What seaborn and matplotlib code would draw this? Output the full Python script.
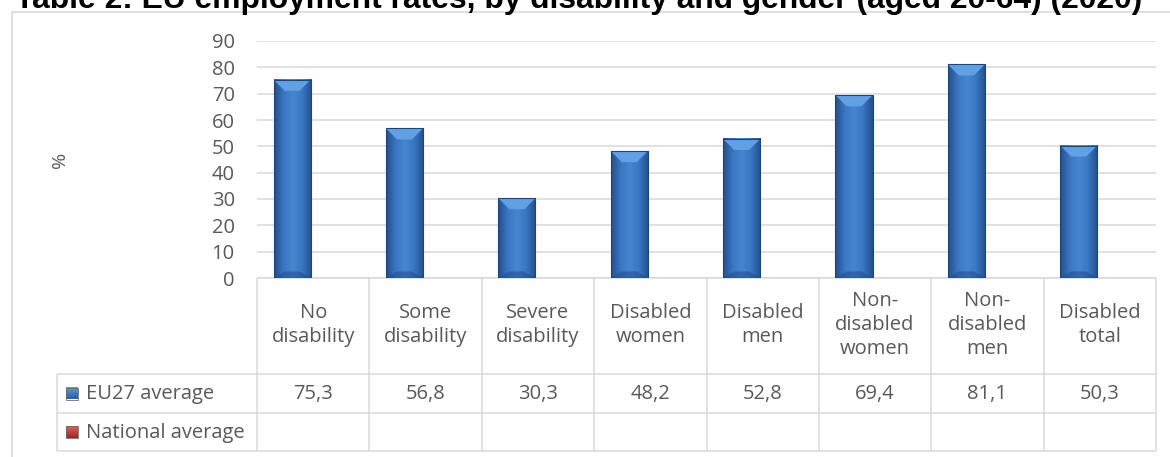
import numpy as np
import pandas as pd
import matplotlib
matplotlib.use("Agg")
import matplotlib.pyplot as plt
import seaborn as sns
from matplotlib.patches import Polygon, Rectangle
from matplotlib.colors import LinearSegmentedColormap

# data
categories = ["No\ndisability", "Some\ndisability", "Severe\ndisability", "Disabled\nwomen",
              "Disabled\nmen", "Non-\ndisabled\nwomen", "Non-\ndisabled\nmen", "Disabled\ntotal"]
eu27 = [75.3, 56.8, 30.3, 48.2, 52.8, 69.4, 81.1, 50.3]
national = [np.nan] * 8
series = ["EU27 average", "National average"]
yticks = list(range(0, 91, 10))
title = "Table 2: EU employment rates, by disability and gender (aged 20-64) (2020)"

df = pd.DataFrame({
    "group": categories * 2,
    "series": [series[0]] * len(categories) + [series[1]] * len(categories),
    "value": eu27 + national,
})

sns.set_theme(style="white")
plt.rcParams['font.family'] = ['Open Sans', 'DejaVu Sans']

grey_txt = "#595959"
line_col = "#d9d9d9"
blue = "#3a75c0"
red = "#c0392f"

W, H = 1170, 457
fig = plt.figure(figsize=(W / 100, H / 100), dpi=100)

# table / frame overlay in pixel coords
tab = fig.add_axes([0, 0, 1, 1], zorder=0)
tab.set_xlim(0, W)
tab.set_ylim(H, 0)
tab.axis('off')

ax = fig.add_axes([257 / W, (H - 278) / H, (1156 - 257) / W, (278 - 41) / H], zorder=1)
ax.patch.set_alpha(0)
sns.barplot(data=df, x="group", y="value", hue="series", hue_order=series, order=categories,
            palette=[blue, red], width=0.75, gap=0.12, saturation=1, legend=False,
            ax=ax, zorder=3)

ax.set_xlim(-0.5, len(categories) - 0.5)
ax.set_ylim(0, 90)
ax.set_yticks(yticks)
ax.set_xticks([])
ax.set_xlabel("")
ax.set_ylabel("")
ax.yaxis.grid(True, color=line_col, lw=1.1)
ax.set_axisbelow(True)
for s in ax.spines.values():
    s.set_visible(False)
ax.tick_params(axis='y', length=0, pad=16, labelsize=14.5, labelcolor=grey_txt)

# bevelled bar look
side = LinearSegmentedColormap.from_list("side", ["#22508c", "#3a76c2", "#4886d2", "#3a76c2", "#22508c"])
for p in list(ax.patches):
    h = p.get_height()
    if not np.isfinite(h) or h <= 0:
        continue
    x0, w = p.get_x(), p.get_width()
    ax.imshow(np.linspace(0, 1, 64).reshape(1, -1), cmap=side, extent=[x0, x0 + w, 0, h],
              aspect='auto', zorder=3.1, interpolation='bicubic')
    ins, bh = w * 0.3, 4.2
    ax.add_patch(Polygon([(x0, h), (x0 + w, h), (x0 + w - ins, h - bh), (x0 + ins, h - bh)],
                         closed=True, facecolor="#62a0e6", edgecolor="none", zorder=3.2))
    ax.add_patch(Polygon([(x0, 0), (x0 + w, 0), (x0 + w - ins, 2.5), (x0 + ins, 2.5)],
                         closed=True, facecolor="#1f4a80", alpha=0.5, edgecolor="none", zorder=3.2))
    ax.add_patch(Rectangle((x0, 0), w, h, fill=False, edgecolor="#1d4677", lw=0.8, zorder=3.3))
ax.set_xlim(-0.5, len(categories) - 0.5)
ax.set_ylim(0, 90)

# outer frame and title
tab.plot([12, 12, W + 5], [H + 5, 12, 12], color=line_col, lw=1.2)
fig.text(15 / W, 1 - 8 / H, title, ha='left', va='baseline', fontsize=22.9,
         fontweight='bold', family=['Liberation Sans', 'DejaVu Sans'], color='black')
fig.text(60 / W, 1 - 160 / H, "%", rotation=90, ha='center', va='center',
         fontsize=14, color=grey_txt)

# data table under the axis
edges = [ax.transData.transform((i - 0.5, 0))[0] for i in range(len(categories) + 1)]
top, hdr_bot, r1_bot, r2_bot = 278, 374, 413, 451
lbl_left = 57
kw = dict(color=line_col, lw=1.1, solid_capstyle='butt')
tab.plot([edges[0], edges[-1]], [top, top], **kw)
for yy in (hdr_bot, r1_bot, r2_bot):
    tab.plot([lbl_left, edges[-1]], [yy, yy], **kw)
for xx in edges:
    tab.plot([xx, xx], [top, r2_bot], **kw)
tab.plot([lbl_left, lbl_left], [hdr_bot, r2_bot], **kw)

for i, cat in enumerate(categories):
    cx = (edges[i] + edges[i + 1]) / 2
    tab.text(cx, 325, cat, ha='center', va='center', fontsize=14.5, color=grey_txt,
             linespacing=1.25)
    tab.text(cx, (hdr_bot + r1_bot) / 2 + 1, f"{eu27[i]:.1f}".replace(".", ","),
             ha='center', va='center', fontsize=14.5, color=grey_txt)

row_mid = [(hdr_bot + r1_bot) / 2, (r1_bot + r2_bot) / 2]
sq_cols = [["#5b97de", "#2a5ea3"], ["#e0605a", "#9e2824"]]
for name, ym, cols in zip(series, row_mid, sq_cols):
    cm = LinearSegmentedColormap.from_list("sq", cols)
    tab.imshow(np.linspace(0, 1, 16).reshape(-1, 1), cmap=cm, aspect='auto',
               extent=[66, 78, ym + 6, ym - 6], zorder=2)
    tab.add_patch(Rectangle((66, ym - 6), 12, 12, fill=False, edgecolor="#6b6b6b", lw=0.6, zorder=3))
    tab.text(86, ym + 1, name, ha='left', va='center', fontsize=14.5, color=grey_txt)
tab.set_xlim(0, W)
tab.set_ylim(H, 0)

fig.savefig("out.png", dpi=100)
